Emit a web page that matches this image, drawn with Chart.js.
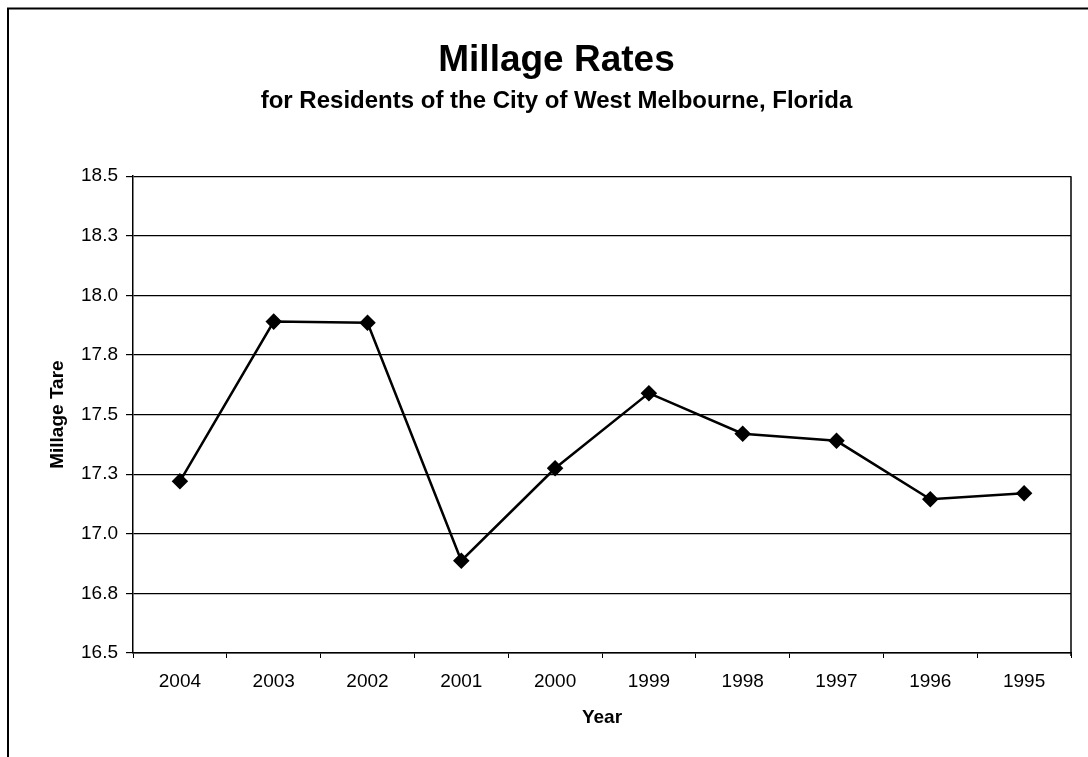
<!DOCTYPE html>
<html>
<head>
<meta charset="utf-8">
<script src="https://cdn.jsdelivr.net/npm/chart.js@4.4.0/dist/chart.umd.min.js"></script>
<style>
  html, body { margin: 0; padding: 0; background: #fff; }
  #wrap { position: relative; width: 1088px; height: 757px; }
</style>
</head>
<body>
<div id="wrap"><canvas id="millage" width="1088" height="757"></canvas></div>
<script>
// values
var years = ['2004', '2003', '2002', '2001', '2000', '1999', '1998', '1997', '1996', '1995'];
var rates = [17.22, 17.89, 17.885, 16.887, 17.275, 17.59, 17.42, 17.39, 17.145, 17.17];
var yMin = 16.5;
var yMax = 18.5;
var yStep = 0.25;

// page frame and the box around the plot area
var framePlugin = {
  id: 'frame',
  afterDraw: function(chart) {
    var ctx = chart.ctx;
    var a = chart.chartArea;
    ctx.save();
    ctx.strokeStyle = '#000';
    ctx.lineWidth = 2;
    ctx.beginPath();
    ctx.moveTo(8, 757);
    ctx.lineTo(8, 8.5);
    ctx.lineTo(1088, 8.5);
    ctx.stroke();
    ctx.lineWidth = 1.5;
    ctx.beginPath();
    ctx.moveTo(a.right, a.top);
    ctx.lineTo(a.right, a.bottom + 3);
    ctx.stroke();
    ctx.restore();
  }
};

Chart.defaults.font.family = '"Liberation Sans", Arial, sans-serif';
Chart.defaults.color = '#000';

new Chart(document.getElementById('millage').getContext('2d'), {
  type: 'line',
  data: {
    labels: years,
    datasets: [{
      label: 'Millage Rate',
      data: rates,
      borderColor: '#000',
      backgroundColor: '#000',
      borderWidth: 2.5,
      pointStyle: 'rectRot',
      pointRadius: 6.5,
      pointBackgroundColor: '#000',
      pointBorderColor: '#000',
      tension: 0
    }]
  },
  options: {
    responsive: false,
    animation: false,
    layout: {
      padding: { top: 39, left: 42, right: 17, bottom: 24 }
    },
    plugins: {
      legend: { display: false },
      tooltip: { enabled: false },
      title: {
        display: true,
        text: 'Millage Rates',
        font: { size: 37, weight: 'bold' },
        padding: { top: 0, bottom: 4 }
      },
      subtitle: {
        display: true,
        text: 'for Residents of the City of West Melbourne, Florida',
        font: { size: 24, weight: 'bold' },
        padding: { top: 0, bottom: 60 }
      }
    },
    scales: {
      x: {
        offset: true,
        grid: {
          offset: true,
          drawOnChartArea: false,
          color: '#000',
          tickLength: 5
        },
        border: { color: '#000', width: 1.5 },
        ticks: { font: { size: 19 }, padding: 12, maxRotation: 0 },
        title: {
          display: true,
          text: 'Year',
          font: { size: 19, weight: 'bold' },
          padding: { top: 10, bottom: 4 }
        },
        afterFit: function(scale) { scale.height = 80; }
      },
      y: {
        min: yMin,
        max: yMax,
        grid: { color: '#000', lineWidth: 1.2, tickLength: 7 },
        border: { color: '#000', width: 1.5 },
        ticks: {
          stepSize: yStep,
          font: { size: 19 },
          padding: 8,
          callback: function(v) { return v.toFixed(1); }
        },
        title: {
          display: true,
          text: 'Millage Tare',
          font: { size: 19, weight: 'bold' },
          padding: { top: 4, bottom: 4 }
        },
        afterFit: function(scale) { scale.width = 91; }
      }
    }
  },
  plugins: [framePlugin]
});
</script>
</body>
</html>
